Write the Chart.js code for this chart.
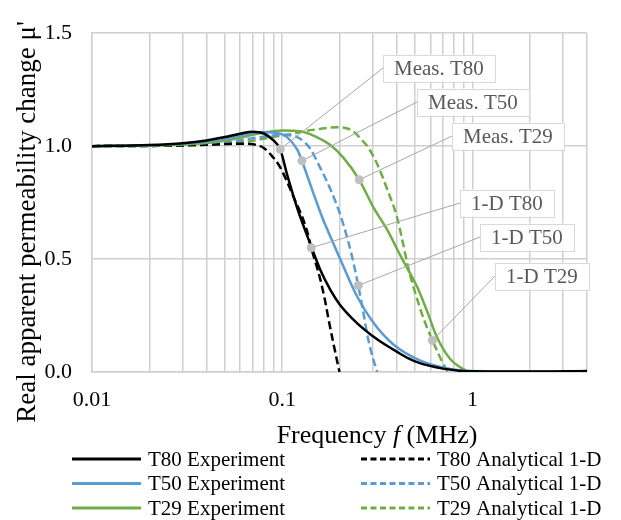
<!DOCTYPE html>
<html>
<head>
<meta charset="utf-8">
<script src="https://cdn.jsdelivr.net/npm/chart.js@4.4.1/dist/chart.umd.min.js"></script>
<style>
  html, body { margin: 0; padding: 0; background: #fff; }
  #wrap { width: 621px; height: 520px; }
</style>
</head>
<body>
<div id="wrap"><canvas id="mu-chart" width="621" height="520"></canvas></div>
<script>
// Data (frequency in MHz, real apparent permeability change)
const t80ExpF = [0.01, 0.02, 0.03, 0.04, 0.05, 0.06, 0.07, 0.08, 0.09, 0.0976, 0.106, 0.12, 0.14, 0.158, 0.18, 0.2, 0.248, 0.3, 0.328, 0.4, 0.455, 0.533, 0.7, 0.85, 1, 1.5, 2, 3, 4];
const t80ExpMu = [1.0, 1.005, 1.013, 1.025, 1.04, 1.055, 1.064, 1.056, 1.025, 0.986, 0.875, 0.725, 0.57, 0.455, 0.36, 0.3, 0.215, 0.158, 0.135, 0.09, 0.063, 0.038, 0.015, 0.006, 0.003, 0.002, 0.002, 0.003, 0.004];

const t50ExpF = [0.01, 0.02, 0.03, 0.04, 0.05, 0.06, 0.07, 0.08, 0.09, 0.1, 0.106, 0.12, 0.127, 0.132, 0.146, 0.164, 0.19, 0.209, 0.248, 0.301, 0.384, 0.533, 0.7, 0.85, 1, 2, 4];
const t50ExpMu = [1.0, 1.004, 1.01, 1.02, 1.033, 1.047, 1.058, 1.062, 1.06, 1.052, 1.04, 0.985, 0.935, 0.895, 0.79, 0.675, 0.55, 0.47, 0.333, 0.219, 0.122, 0.05, 0.02, 0.008, 0.004, 0.002, 0.004];

const t29ExpF = [0.01, 0.02, 0.03, 0.04, 0.05, 0.06, 0.07, 0.08, 0.09, 0.1, 0.115, 0.13, 0.15, 0.179, 0.209, 0.254, 0.301, 0.356, 0.418, 0.513, 0.58, 0.65, 0.76, 0.9, 1, 2, 4];
const t29ExpMu = [1.0, 1.002, 1.007, 1.014, 1.024, 1.037, 1.05, 1.06, 1.066, 1.069, 1.068, 1.062, 1.042, 1.005, 0.95, 0.851, 0.73, 0.63, 0.515, 0.375, 0.265, 0.155, 0.06, 0.012, 0.0, 0.0, 0.0];

const t80AnaF = [0.01, 0.02, 0.03, 0.04, 0.05, 0.06, 0.07, 0.08, 0.0865, 0.0976, 0.114, 0.135, 0.142, 0.149, 0.158, 0.168, 0.175, 0.187, 0.2];
const t80AnaMu = [1.0, 1.001, 1.003, 1.006, 1.009, 1.011, 1.008, 0.992, 0.965, 0.906, 0.78, 0.625, 0.55, 0.49, 0.415, 0.315, 0.235, 0.115, 0.0];

const t50AnaF = [0.01, 0.02, 0.03, 0.04, 0.05, 0.06, 0.07, 0.08, 0.09, 0.1, 0.11, 0.12, 0.13, 0.14, 0.158, 0.179, 0.202, 0.222, 0.233, 0.251, 0.264, 0.283, 0.3, 0.316];
const t50AnaMu = [1.0, 1.002, 1.005, 1.01, 1.017, 1.026, 1.035, 1.042, 1.047, 1.05, 1.048, 1.04, 1.02, 0.99, 0.906, 0.81, 0.695, 0.58, 0.51, 0.383, 0.285, 0.145, 0.06, 0.0];

const t29AnaF = [0.01, 0.02, 0.03, 0.04, 0.05, 0.06, 0.07, 0.08, 0.09, 0.106, 0.13, 0.158, 0.195, 0.22, 0.242, 0.26, 0.28, 0.316, 0.356, 0.402, 0.43, 0.46, 0.513, 0.56, 0.616, 0.68, 0.74];
const t29AnaMu = [1.0, 1.001, 1.003, 1.006, 1.01, 1.016, 1.024, 1.033, 1.041, 1.05, 1.066, 1.076, 1.084, 1.078, 1.058, 1.03, 1.0, 0.92, 0.81, 0.683, 0.575, 0.46, 0.32, 0.225, 0.14, 0.06, 0.0];

const seriesLabels = ["T80 Experiment", "T50 Experiment", "T29 Experiment", "T80 Analytical 1-D", "T50 Analytical 1-D", "T29 Analytical 1-D"];

// Callout notes: text and the point each one marks
const noteTexts = ["Meas. T80", "Meas. T50", "Meas. T29", "1-D T80", "1-D T50", "1-D T29"];
const noteF = [0.0976, 0.127, 0.254, 0.142, 0.251, 0.616];
const noteMu = [0.986, 0.935, 0.851, 0.55, 0.383, 0.14];

// Axis ticks
const xGridValues = [0.01, 0.02, 0.03, 0.04, 0.05, 0.06, 0.07, 0.08, 0.09, 0.1, 0.2, 0.3, 0.4, 0.5, 0.6, 0.7, 0.8, 0.9, 1, 2, 3, 4];
const xLabelValues = [0.01, 0.1, 1];
const xTickLabels = ["0.01", "0.1", "1"];

const SERIF = "'Times New Roman', 'Liberation Serif', serif";
const BLACK = "#000000";
const BLUE = "#5B9BD5";
const GREEN = "#70AD47";
const GRID = "#cfcfcf";

function points(fs, mus) {
  return fs.map((f, i) => ({ x: f, y: mus[i] }));
}

function line(label, fs, mus, color, dashed) {
  return {
    label: label,
    data: points(fs, mus),
    borderColor: color,
    backgroundColor: color,
    borderWidth: 2.5,
    borderDash: dashed ? [8, 4] : [],
    pointRadius: 0,
    showLine: true,
    cubicInterpolationMode: "monotone",
  };
}

// Callouts: grey dot, leader line and boxed label
const calloutNotes = {
  id: "calloutNotes",
  afterDatasetsDraw(chart, args, opts) {
    const { ctx } = chart;
    const x = chart.scales.x;
    const y = chart.scales.y;
    ctx.save();
    ctx.font = opts.font;
    noteTexts.forEach((text, i) => {
      const px = x.getPixelForValue(noteF[i]);
      const py = y.getPixelForValue(noteMu[i]);
      const bx = Math.round(x.getPixelForValue(opts.boxAt[i][0]));
      const by = Math.round(y.getPixelForValue(opts.boxAt[i][1]));
      const w = Math.round(ctx.measureText(text).width + opts.padX * 2);
      const h = opts.boxHeight;

      ctx.strokeStyle = "#a6a6a6";
      ctx.lineWidth = 1;
      ctx.setLineDash([]);
      ctx.beginPath();
      ctx.moveTo(px, py);
      ctx.lineTo(bx, by);
      ctx.stroke();

      ctx.fillStyle = "#ffffff";
      ctx.fillRect(bx, by - h / 2, w, h);
      ctx.strokeStyle = "#d9d9d9";
      ctx.strokeRect(bx + 0.5, Math.round(by - h / 2) + 0.5, w, h);

      ctx.fillStyle = "#595959";
      ctx.textBaseline = "middle";
      ctx.textAlign = "left";
      ctx.fillText(text, bx + opts.padX, by + 1);

      ctx.fillStyle = "#bfbfbf";
      ctx.beginPath();
      ctx.arc(px, py, 4.5, 0, Math.PI * 2);
      ctx.fill();
    });
    ctx.restore();
  },
};

// Axis titles and the two-column legend
const frame = {
  id: "frame",
  afterDraw(chart) {
    const { ctx } = chart;
    ctx.save();
    ctx.fillStyle = "#000";

    // y title
    ctx.save();
    ctx.translate(28, 222);
    ctx.rotate(-Math.PI / 2);
    ctx.font = "27px " + SERIF;
    ctx.textAlign = "center";
    ctx.textBaseline = "middle";
    ctx.fillText("Real apparent permeability change \u03bc'", 0, 0);
    ctx.restore();

    // x title with italic f
    const parts = [
      ["Frequency ", "26px " + SERIF],
      ["f", "italic 26px " + SERIF],
      [" (MHz)", "26px " + SERIF],
    ];
    let total = 0;
    parts.forEach((p) => { ctx.font = p[1]; total += ctx.measureText(p[0]).width; });
    let tx = 377 - total / 2;
    ctx.textBaseline = "alphabetic";
    ctx.textAlign = "left";
    parts.forEach((p) => {
      ctx.font = p[1];
      ctx.fillText(p[0], tx, 443);
      tx += ctx.measureText(p[0]).width;
    });

    // legend: experiments left, analytical right
    const colX = [72, 361];
    const rowY = [459, 483.5, 508];
    ctx.font = "21px " + SERIF;
    ctx.textBaseline = "middle";
    chart.data.datasets.forEach((ds, i) => {
      const cx = colX[Math.floor(i / 3)];
      const cy = rowY[i % 3];
      ctx.strokeStyle = ds.borderColor;
      ctx.lineWidth = 3;
      ctx.setLineDash(ds.borderDash.length ? [6, 3.5] : []);
      ctx.beginPath();
      ctx.moveTo(cx, cy);
      ctx.lineTo(cx + 69, cy);
      ctx.stroke();
      ctx.fillStyle = "#000";
      ctx.fillText(ds.label, cx + 76, cy + 1);
    });
    ctx.restore();
  },
};

const ctx = document.getElementById("mu-chart").getContext("2d");

new Chart(ctx, {
  type: "scatter",
  data: {
    datasets: [
      line(seriesLabels[0], t80ExpF, t80ExpMu, BLACK, false),
      line(seriesLabels[1], t50ExpF, t50ExpMu, BLUE, false),
      line(seriesLabels[2], t29ExpF, t29ExpMu, GREEN, false),
      line(seriesLabels[3], t80AnaF, t80AnaMu, BLACK, true),
      line(seriesLabels[4], t50AnaF, t50AnaMu, BLUE, true),
      line(seriesLabels[5], t29AnaF, t29AnaMu, GREEN, true),
    ],
  },
  options: {
    responsive: false,
    animation: false,
    layout: {
      padding: { top: 16, right: 34, bottom: 0, left: 0 },
    },
    plugins: {
      legend: { display: false },
      tooltip: { enabled: false },
      calloutNotes: {
        font: "21px " + SERIF,
        padX: 11,
        boxHeight: 27,
        // left-middle of each label box, in data units
        boxAt: [[0.34, 1.346], [0.513, 1.195], [0.785, 1.047], [0.865, 0.75], [1.089, 0.598], [1.321, 0.426]],
      },
    },
    scales: {
      x: {
        type: "logarithmic",
        min: 0.01,
        max: 4,
        afterBuildTicks: (scale) => {
          scale.ticks = xGridValues.map((v) => ({ value: v }));
        },
        afterFit: (scale) => {
          scale.height = 148;
        },
        grid: { color: GRID, lineWidth: 1.5, drawTicks: false },
        border: { color: GRID, width: 1.5 },
        ticks: {
          autoSkip: false,
          maxRotation: 0,
          padding: 15,
          color: "#000",
          font: { family: SERIF, size: 22 },
          callback: function (value) {
            const k = xLabelValues.findIndex((v) => Math.abs(v - value) < 1e-9);
            return k >= 0 ? xTickLabels[k] : "";
          },
        },
      },
      y: {
        min: 0,
        max: 1.5,
        afterFit: (scale) => {
          scale.width = 92;
        },
        grid: { color: GRID, lineWidth: 1.5, drawTicks: false },
        border: { color: GRID, width: 1.5 },
        ticks: {
          stepSize: 0.5,
          padding: 20,
          color: "#000",
          font: { family: SERIF, size: 22 },
          callback: (value) => value.toFixed(1),
        },
      },
    },
  },
  plugins: [calloutNotes, frame],
});
</script>
</body>
</html>
